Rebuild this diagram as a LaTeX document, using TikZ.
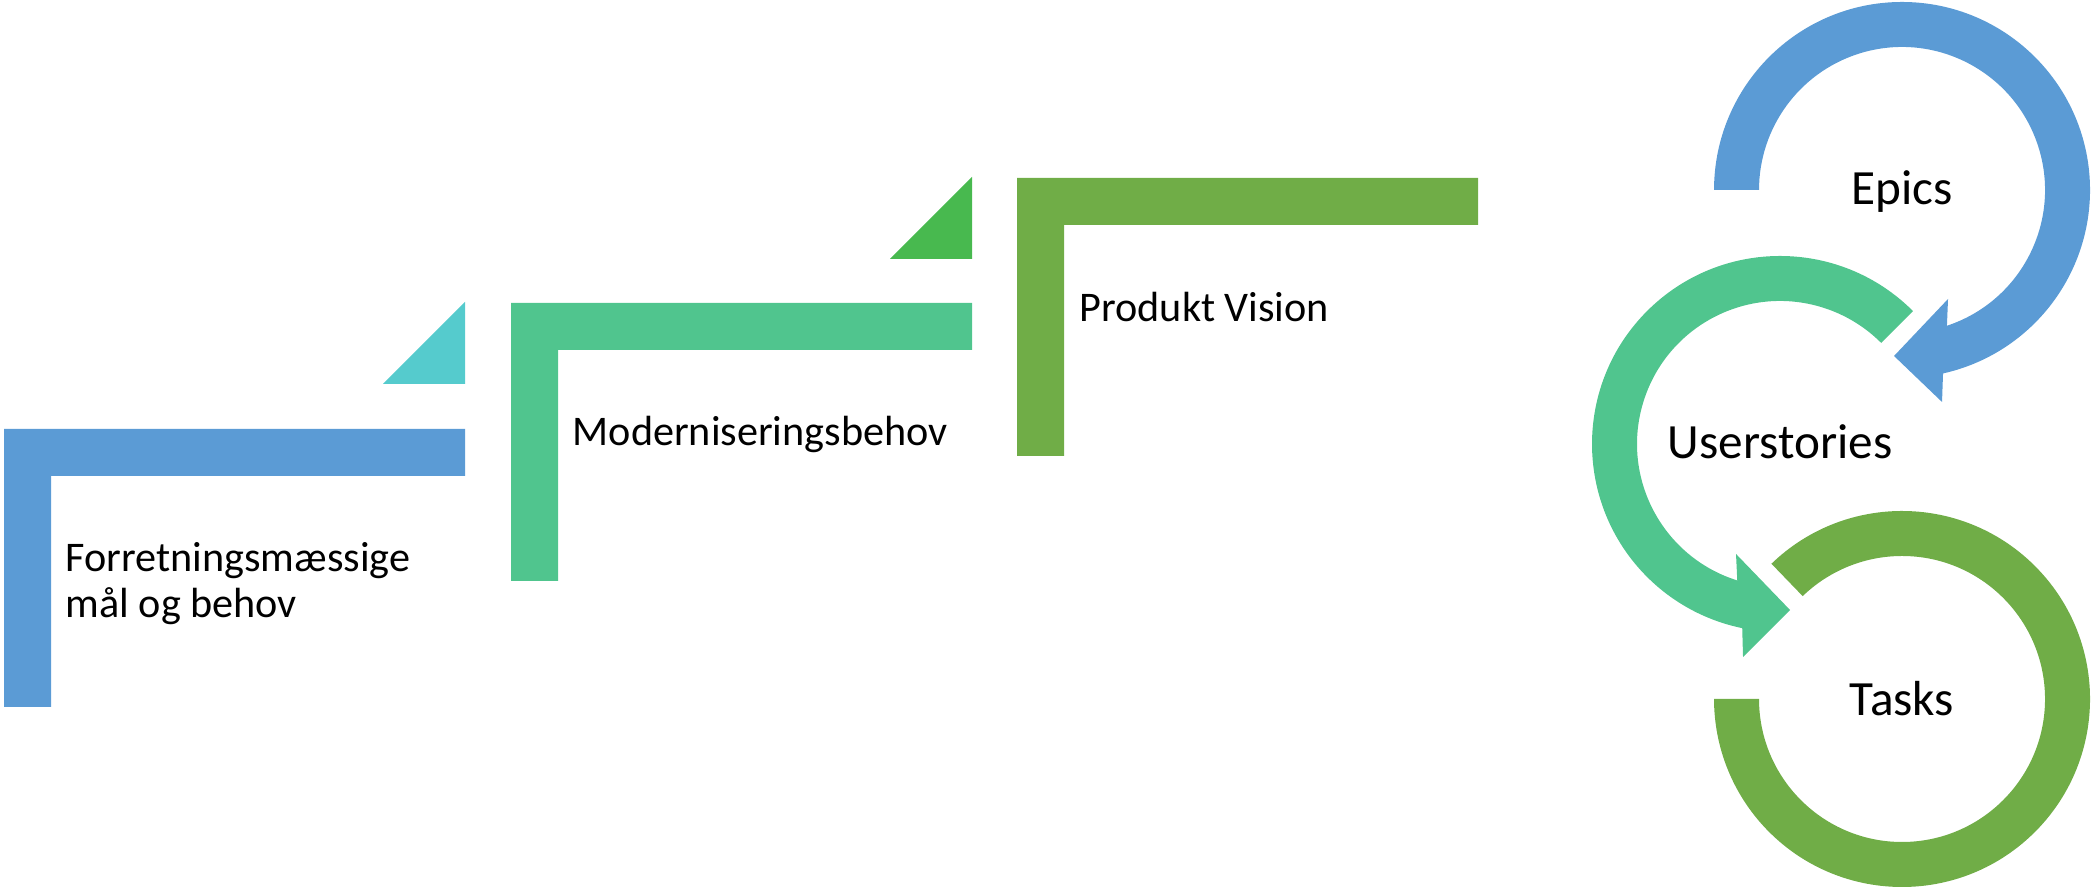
\documentclass[tikz,border=0pt]{standalone}
\usepackage{fontspec}
\setmainfont{Carlito}
\usepackage{tikz}
\definecolor{epicblue}{RGB}{91,155,213}
\definecolor{storygreen}{RGB}{80,197,142}
\definecolor{taskgreen}{RGB}{112,173,71}
\definecolor{tricyan}{RGB}{85,203,205}
\definecolor{trigreen}{RGB}{72,185,79}

\begin{document}
\begin{tikzpicture}[x=0.01cm,y=0.01cm,
                    txt/.style={font=\fontsize{12}{13.3}\selectfont,anchor=base west,inner sep=0pt,align=left},
                    ringtxt/.style={font=\fontsize{14}{16}\selectfont,anchor=base,inner sep=0pt}]

	\useasboundingbox (0,0) rectangle (2095,889);

	\fill[epicblue]   (4,182) -- (4,460) -- (465,460) -- (465,413) -- (51,413) -- (51,182) -- cycle;
	\fill[storygreen] (511,308) -- (511,586) -- (972,586) -- (972,539) -- (558,539) -- (558,308) -- cycle;
	\fill[taskgreen]  (1017,433) -- (1017,711) -- (1478,711) -- (1478,664) -- (1064,664) -- (1064,433) -- cycle;

	\fill[tricyan]  (465,587) -- (465,505) -- (383,505) -- cycle;
	\fill[trigreen] (972,712) -- (972,630) -- (890,630) -- cycle;

	\node[txt] (goals)   at (65,271)   {Forretningsmæssige\\mål og behov};
	\node[txt] (modern)  at (572,443)  {Moderniseringsbehov};
	\node[txt] (vision)  at (1079,567) {Produkt Vision};

	\coordinate (ep) at (1902,699);
	\coordinate (us) at (1780,445);
	\coordinate (ts) at (1902,190);

	\fill[epicblue] ([shift={(180:188)}]ep) arc[start angle=180, end angle=-77.4, radius=188]
		-- (1942,487) -- (1894,533) -- (1948,590)
		-- ([shift={(-71.7:143)}]ep) arc[start angle=-71.7, end angle=180, radius=143] -- cycle;
	\fill[storygreen] ([shift={(45:188)}]us) arc[start angle=45, end angle=258.4, radius=188]
		-- (1743,232) -- (1790,279) -- (1736,335)
		-- ([shift={(252.6:143)}]us) arc[start angle=252.6, end angle=45, radius=143] -- cycle;
	\fill[taskgreen] ([shift={(134:188)}]ts) arc[start angle=134, end angle=-180, radius=188]
		-- ([shift={(-180:143)}]ts) arc[start angle=-180, end angle=134, radius=143] -- cycle;

	\node[ringtxt] (epics)   at (1902,684) {Epics};
	\node[ringtxt] (stories) at (1780,430) {Userstories};
	\node[ringtxt] (tasks)   at (1902,173) {Tasks};

\end{tikzpicture}
\end{document}
